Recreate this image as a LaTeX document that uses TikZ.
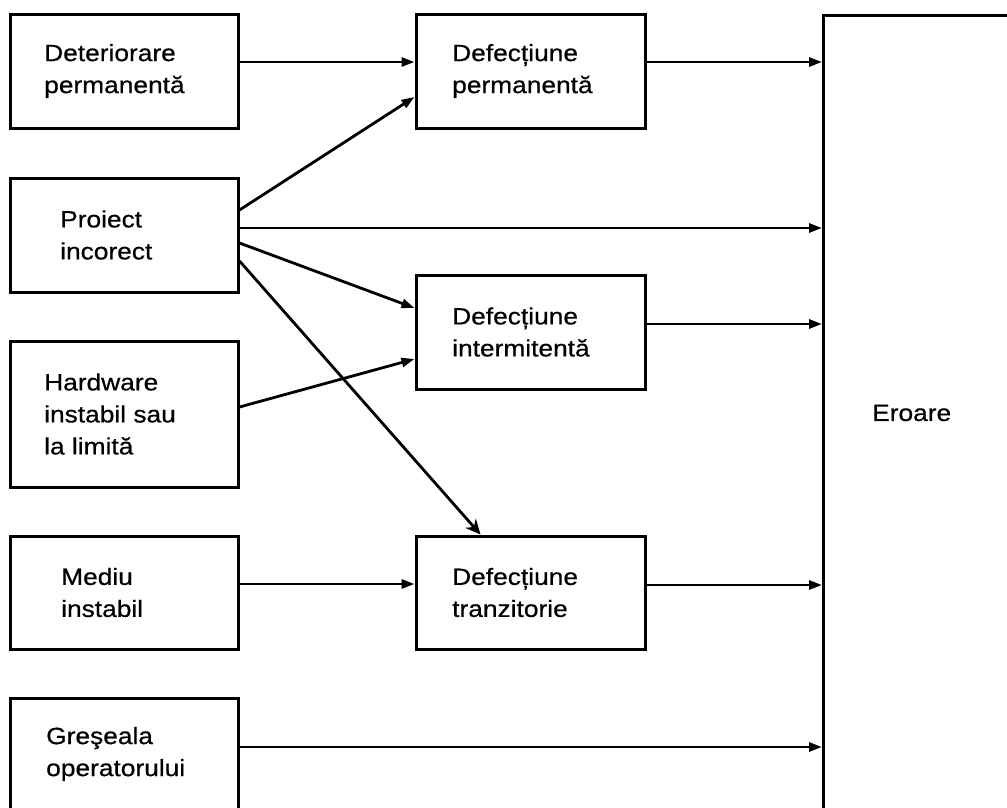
\documentclass[tikz,border=0pt]{standalone}
\usepackage{fontspec}
\setmainfont{Liberation Sans}
\newfontfamily\lblfont[FakeStretch=1.12,FakeBold=0.6]{Liberation Sans}
\usetikzlibrary{arrows.meta,calc}
\begin{document}
\begin{tikzpicture}[x=1pt,y=-1pt,
  box/.style={draw, line width=3pt, inner sep=0pt, minimum width=228pt, minimum height=114pt},
  txt/.style={font=\lblfont\fontsize{23.5}{32}\selectfont, align=left, anchor=west, inner sep=0pt},
  arr/.style={line width=2.8pt, -{Triangle[length=13pt,width=9pt]}},
  barb/.style={line width=2.8pt, -{Stealth[length=15pt,width=14pt,inset=5pt]}}]
\useasboundingbox (0,0) rectangle (1007,807);
\clip (0,0) rectangle (1007,807);

% causes (left column)
\node[box] (det) at (124,71) {};
\node[box] (proj) at (124,235) {};
\node[box, minimum height=146pt] (hw) at (124,414) {};
\node[box, minimum height=113pt] (med) at (124,592.5) {};
\node[box] (gre) at (124,755) {};

% faults (middle column)
\node[box, minimum width=229pt] (perm) at (530.5,71) {};
\node[box, minimum width=229pt] (inter) at (530.5,332) {};
\node[box, minimum width=229pt, minimum height=113pt] (tran) at (530.5,592.5) {};

% error block, running off the page to the right and bottom
\node[draw, line width=3pt, inner sep=0pt, minimum width=260pt, minimum height=860pt,
      anchor=north west] (err) at (822,14) {};

% labels
\node[txt] (detT) at (44,71) {Deteriorare\\permanentă};
\node[txt] (projT) at (60,235) {Proiect\\incorect};
\node[txt] (hwT) at (44,414) {Hardware\\instabil sau\\la limită};
\node[txt] (medT) at (61,592.5) {Mediu\\instabil};
\node[txt] (greT) at (46,754) {Greşeala\\operatorului};
\node[txt] (permT) at (452,71) {Defecțiune\\permanentă};
\node[txt] (interT) at (452,332) {Defecțiune\\intermitentă};
\node[txt] (tranT) at (452,592.5) {Defecțiune\\tranzitorie};
\node[txt] (errT) at (872,413) {Eroare};

% connector start points
\coordinate (d1) at ($(det.east)+(0,-9)$);
\coordinate (p1) at ($(proj.east)+(0,-25)$);
\coordinate (p2) at ($(proj.east)+(0,-7)$);
\coordinate (p3) at ($(proj.east)+(0,8)$);
\coordinate (p4) at ($(proj.east)+(0,26)$);
\coordinate (h1) at ($(hw.east)+(0,-7)$);
\coordinate (m1) at ($(med.east)+(0,-8.5)$);
\coordinate (g1) at ($(gre.east)+(0,-8)$);
\coordinate (f1) at ($(perm.east)+(0,-9)$);
\coordinate (f2) at ($(inter.east)+(0,-8)$);
\coordinate (f3) at ($(tran.east)+(0,-7.5)$);
% connector end points on the fault boxes
\coordinate (permIn) at ($(perm.west)+(0,26)$);
\coordinate (interIn1) at ($(inter.west)+(0,-24)$);
\coordinate (interIn2) at ($(inter.west)+(0,27)$);
\coordinate (tranTop) at ($(tran.north west)+(66,0)$);

% causes to faults
\draw[arr] (d1) -- (d1 -| perm.west);
\draw[arr] (p1) -- (permIn);
\draw[arr] (p3) -- (interIn1);
\draw[arr] (h1) -- (interIn2);
\draw[barb] (p4) -- (tranTop);
\draw[arr] (m1) -- (m1 -| tran.west);

% into the error block
\draw[arr] (f1) -- (f1 -| err.west);
\draw[arr] (p2) -- (p2 -| err.west);
\draw[arr] (f2) -- (f2 -| err.west);
\draw[arr] (f3) -- (f3 -| err.west);
\draw[arr] (g1) -- (g1 -| err.west);
\end{tikzpicture}
\end{document}
